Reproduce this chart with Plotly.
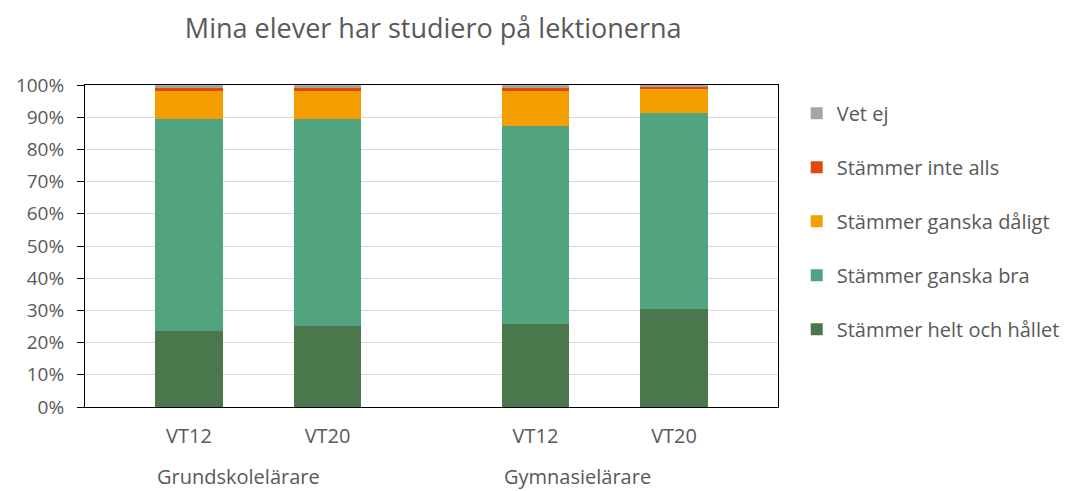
import plotly.graph_objects as go

title = "Mina elever har studiero på lektionerna"
groups = ["Grundskolelärare", "Gymnasielärare"]
periods = ["VT12", "VT20"]

series_names = ["Stämmer helt och hållet", "Stämmer ganska bra", "Stämmer ganska dåligt",
                "Stämmer inte alls", "Vet ej"]
helt = [23.7, 25.1, 25.8, 30.4]
bra = [65.7, 64.3, 61.6, 61.0]
daligt = [8.7, 8.7, 10.7, 7.5]
inte_alls = [1.0, 1.0, 1.0, 0.6]
vet_ej = [0.9, 0.9, 0.9, 0.5]
values = [helt, bra, daligt, inte_alls, vet_ej]
colors = ["#4A774C", "#52A480", "#F59E00", "#DD4B12", "#A5A5A5"]

# numeric positions with a gap between groups
gap = 0.5
xpos, xlab = [], []
for gi, g in enumerate(groups):
    for pi, p in enumerate(periods):
        xpos.append(gi * (len(periods) + gap) + pi)
        xlab.append(p)

bar_w = 0.485
font = "Open Sans"
grey = "#595959"

fig = go.Figure()
n = len(series_names)
for i, (name, vals, col) in enumerate(zip(series_names, values, colors)):
    fig.add_trace(go.Bar(x=xpos, y=[v / 100 for v in vals], name=name, width=bar_w,
                         marker=dict(color=col, line=dict(width=0)),
                         legendgroup=name, legendrank=n - i))

for gi, g in enumerate(groups):
    first = gi * (len(periods) + gap)
    fig.add_annotation(x=first - bar_w / 2, y=-0.215, xref="x", yref="paper", text=g,
                       showarrow=False, xanchor="left", yanchor="middle",
                       font=dict(family=font, size=20, color=grey))

fig.update_layout(
    barmode="stack",
    width=1083, height=491,
    paper_bgcolor="white", plot_bgcolor="white",
    margin=dict(l=85, r=305, t=85, b=84),
    title=dict(text=title, x=0.40, xanchor="center", y=0.941, yanchor="middle",
               font=dict(family=font, size=27, color=grey)),
    legend=dict(x=1.027, y=0.973, xanchor="left", yanchor="top",
                traceorder="grouped", tracegroupgap=25,
                font=dict(family=font, size=20, color=grey),
                itemwidth=30),
    showlegend=True,
)
fig.update_xaxes(range=[-0.75, xpos[-1] + 0.75], tickvals=xpos, ticktext=xlab,
                 showline=True, linecolor="black", linewidth=1, mirror=True,
                 showgrid=False, zeroline=False, ticks="", ticklabelstandoff=11,
                 tickfont=dict(family=font, size=20, color=grey))
fig.update_yaxes(range=[0, 1], tickformat=".0%", dtick=0.1,
                 showline=True, linecolor="black", linewidth=1, mirror=True,
                 showgrid=True, gridcolor="#D9D9D9", zeroline=False,
                 ticks="outside", ticklen=7, tickcolor="black", ticklabelstandoff=9,
                 tickfont=dict(family=font, size=19, color=grey))

fig.write_html("out.html", config={"displayModeBar": False},
               post_script="document.body.style.margin='0';")
